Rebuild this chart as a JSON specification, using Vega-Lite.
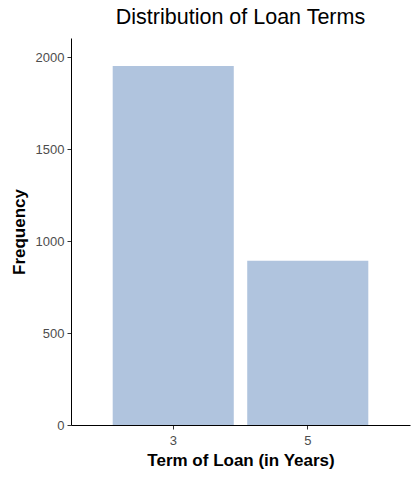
{
  "$schema": "https://vega.github.io/schema/vega-lite/v6.json",
  "autosize": {"type": "none"},
  "width": 339,
  "height": 387,
  "padding": {"left": 71, "top": 38, "right": 10, "bottom": 55},
  "background": "white",
  "title": {
    "text": "Distribution of Loan Terms",
    "font": "Liberation Sans",
    "fontSize": 21.5,
    "fontWeight": "normal",
    "color": "black",
    "anchor": "middle",
    "offset": 10
  },
  "data": {
    "values": [
      {"term": "3", "count": 1953},
      {"term": "5", "count": 893}
    ]
  },
  "mark": {"type": "bar", "color": "#B0C4DE"},
  "encoding": {
    "x": {
      "field": "term",
      "type": "nominal",
      "title": "Term of Loan (in Years)",
      "scale": {"paddingInner": 0.1, "paddingOuter": 0.31},
      "axis": {"labelAngle": 0}
    },
    "y": {
      "field": "count",
      "type": "quantitative",
      "title": "Frequency",
      "scale": {"domain": [0, 2105], "nice": false, "zero": true},
      "axis": {"values": [0, 500, 1000, 1500, 2000], "format": "d"}
    }
  },
  "config": {
    "view": {"stroke": null},
    "axis": {
      "grid": false,
      "domainColor": "black",
      "domainWidth": 1,
      "tickColor": "#333333",
      "tickSize": 4,
      "labelFont": "Liberation Sans",
      "labelFontSize": 13,
      "labelColor": "#4D4D4D",
      "labelPadding": 3,
      "titleFont": "Liberation Sans",
      "titleFontSize": 17,
      "titleFontWeight": "bold",
      "titleColor": "black"
    },
    "axisX": {"labelPadding": 5, "titlePadding": 5},
    "axisY": {"titlePadding": 7}
  }
}
